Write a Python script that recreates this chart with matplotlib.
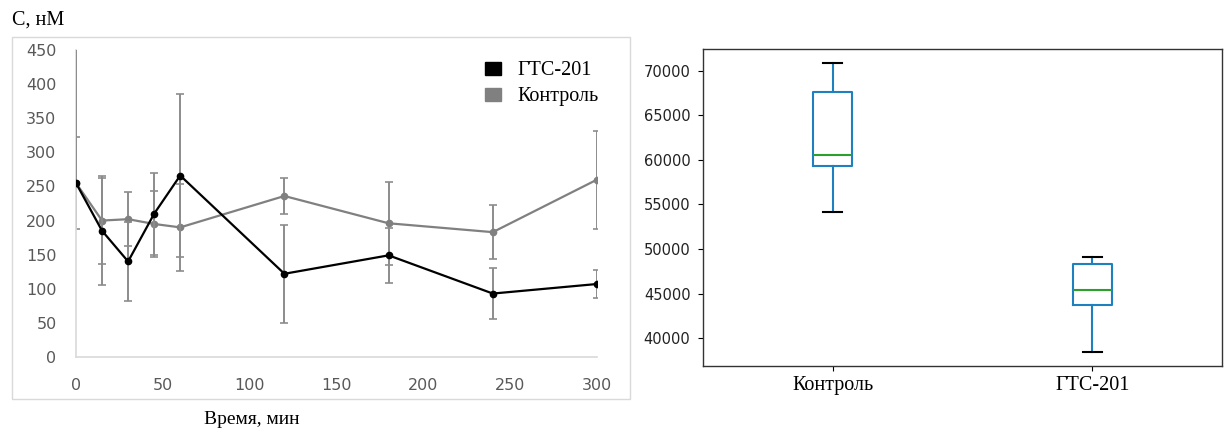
import matplotlib
matplotlib.use("Agg")
import matplotlib.pyplot as plt
from matplotlib.patches import Patch, Rectangle

plt.rcParams["font.family"] = ["DejaVu Sans"]

# Концентрация во времени (среднее ± ошибка)
time_min = [0, 15, 30, 45, 60, 120, 180, 240, 300]

gts = [255, 185, 140, 210, 266, 122, 149, 93, 107]
gts_err_lo = [0, 80, 58, 60, 120, 72, 40, 38, 21]
gts_err_hi = [200, 80, 58, 60, 120, 72, 40, 38, 21]

ctrl = [255, 200, 202, 195, 190, 236, 196, 183, 260]
ctrl_err = [67, 63, 40, 48, 64, 27, 61, 40, 72]

# Статистики для боксплотов (AUC)
box_labels = ["Контроль", "ГТС-201"]
box_med = [60530, 45380]
box_q1 = [59250, 43690]
box_q3 = [67630, 48280]
box_lo = [54140, 38500]
box_hi = [70830, 49070]

SERIF = "Liberation Serif"
GRID = "#d9d9d9"
ERR = "#8c8c8c"

fig = plt.figure(figsize=(12.32, 4.30), dpi=100)

# рамка вокруг левого графика
fig.patches.append(Rectangle((12 / 1232, 1 - 399 / 430), 618 / 1232, 362 / 430,
                             transform=fig.transFigure, fill=False,
                             edgecolor=GRID, lw=1.0))

ax1 = fig.add_axes([76 / 1232, 1 - 357 / 430, 521 / 1232, 307 / 430])
ax1.errorbar(time_min, ctrl, yerr=ctrl_err, color="#808080", ecolor=ERR,
             lw=1.6, elinewidth=1.4, capsize=2.8, capthick=1.2,
             marker="o", ms=4.5, zorder=2)
ax1.errorbar(time_min, gts, yerr=[gts_err_lo, gts_err_hi], color="black",
             ecolor=ERR, lw=1.6, elinewidth=1.4, capsize=2.8, capthick=1.2,
             marker="o", ms=4.5, zorder=3)
ax1.set_xlim(0, 300)
ax1.set_ylim(0, 450)
ax1.set_xticks(range(0, 301, 50))
ax1.set_yticks(range(0, 451, 50))
for s in ["top", "right"]:
    ax1.spines[s].set_visible(False)
for s in ["left", "bottom"]:
    ax1.spines[s].set_color(GRID)
    ax1.spines[s].set_linewidth(1.2)
ax1.tick_params(length=0, labelcolor="#595959", labelsize=11.5)
ax1.tick_params(axis="x", pad=15)
ax1.tick_params(axis="y", pad=14)

handles = [Patch(facecolor="black", edgecolor="black"),
           Patch(facecolor="#808080", edgecolor="#808080")]
ax1.legend(handles, ["ГТС-201", "Контроль"], loc="upper left",
           bbox_to_anchor=(0.75, 1.022), frameon=False,
           prop={"family": SERIF, "size": 14.5}, handlelength=0.8,
           handleheight=0.6, handletextpad=0.8, labelspacing=0.35)

fig.text(12 / 1232, 1 - 20 / 430, "C, нМ", family=SERIF, size=14.5,
         va="center", ha="left")
fig.text(204 / 1232, 1 - 420 / 430, "Время, мин", family=SERIF, size=14,
         va="center", ha="left")

# правый график: боксплоты
ax2 = fig.add_axes([703 / 1232, 1 - 366 / 430, 519 / 1232, 317 / 430])
stats = []
for i, lab in enumerate(box_labels):
    stats.append({"label": lab, "med": box_med[i], "q1": box_q1[i],
                  "q3": box_q3[i], "whislo": box_lo[i],
                  "whishi": box_hi[i], "fliers": []})
blue = "#1f80bf"
ax2.bxp(stats, positions=[1, 2], widths=0.15, showfliers=False,
        boxprops={"color": blue, "lw": 1.5},
        whiskerprops={"color": blue, "lw": 1.5},
        capprops={"color": "black", "lw": 1.5},
        medianprops={"color": "#2ca02c", "lw": 1.5})
ax2.set_xlim(0.5, 2.5)
ax2.set_ylim(36880, 72420)
ax2.set_yticks(range(40000, 70001, 5000))
ax2.tick_params(axis="y", labelsize=10.5, labelcolor="#222222", pad=5.5)
ax2.tick_params(axis="x", labelsize=14.5, pad=4)
for t in ax2.get_xticklabels():
    t.set_family(SERIF)
for s in ax2.spines.values():
    s.set_color("#333333")
    s.set_linewidth(1.0)

fig.savefig("out.png", dpi=100)
